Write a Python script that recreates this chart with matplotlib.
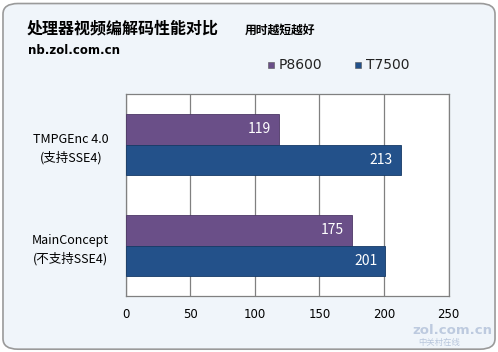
import matplotlib.pyplot as plt
from matplotlib.patches import FancyBboxPatch
import numpy as np

plt.rcParams['font.family'] = ['Noto Sans CJK SC', 'DejaVu Sans']

categories = ['TMPGEnc 4.0\n(支持SSE4)', 'MainConcept\n(不支持SSE4)']
p8600 = [119, 175]
t7500 = [213, 201]
series_names = ['P8600', 'T7500']
xticks = [0, 50, 100, 150, 200, 250]

c_p = '#6a4f88'
c_t = '#23518a'

fig = plt.figure(figsize=(4.98, 3.52), dpi=100)
fig.patch.set_facecolor('white')
bg = FancyBboxPatch((0.006, 0.008), 0.988, 0.982, boxstyle='round,pad=0,rounding_size=0.03',
                    transform=fig.transFigure, facecolor='#f0f5fa', edgecolor='#9a9a9a', lw=1.2,
                    zorder=-10)
fig.patches.append(bg)

W, H = 498, 352
ax = fig.add_axes([125.5 / W, 1 - 296 / H, (448.5 - 125.5) / W, (296 - 94) / H])
ax.set_facecolor('white')

y = np.arange(len(categories))
h = 0.3
ax.barh(y - h / 2, p8600, height=h, color=c_p, edgecolor='#4d3866', lw=0.6, zorder=3)
ax.barh(y + h / 2, t7500, height=h, color=c_t, edgecolor='#163a66', lw=0.6, zorder=3)
for i in range(len(categories)):
    ax.text(p8600[i] - 6, y[i] - h / 2, str(p8600[i]), color='white', fontsize=10,
            ha='right', va='center', zorder=4)
    ax.text(t7500[i] - 6, y[i] + h / 2, str(t7500[i]), color='white', fontsize=10,
            ha='right', va='center', zorder=4)

ax.set_ylim(1.5, -0.5)
ax.set_xlim(0, 250)
ax.set_xticks(xticks)
ax.set_xticklabels([str(v) for v in xticks], fontsize=8.5, family=['DejaVu Sans'])
ax.set_yticks(y)
ax.set_yticklabels(categories, fontsize=9, linespacing=1.5, multialignment='center')
ax.tick_params(length=0, pad=12)
ax.tick_params(axis='x', pad=9)
ax.grid(axis='x', color='#808080', lw=0.9, zorder=1)
for s in ax.spines.values():
    s.set_color('#808080')
    s.set_linewidth(0.9)

fig.text(27 / W, 1 - 28 / H, '处理器视频编解码性能对比', fontsize=11.5, fontweight='bold',
         va='center', ha='left')
fig.text(245 / W, 1 - 30 / H, '用时越短越好', fontsize=8.5, fontweight='bold', va='center')
fig.text(28 / W, 1 - 50 / H, 'nb.zol.com.cn', fontsize=8.5, fontweight='bold', va='center',
         family=['DejaVu Sans'])

# legend
for xm, col, name in [(268, c_p, series_names[0]), (355, c_t, series_names[1])]:
    fig.patches.append(plt.Rectangle((xm / W, 1 - 68 / H), 6 / W, 6 / H, transform=fig.transFigure,
                                     facecolor=col, edgecolor='#555555', lw=0.4))
    fig.text((xm + 11) / W, 1 - 65 / H, name, fontsize=10, va='center', color='#222222',
             family=['DejaVu Sans'])

# watermark
fig.text(492 / W, 1 - 331 / H, 'zol.com.cn', fontsize=9.5, fontweight='bold', color='#b8c6dc',
         va='center', ha='right', alpha=0.9, family=['DejaVu Sans'])
fig.text(418 / W, 1 - 342 / H, '中关村在线', fontsize=6, color='#b8c6dc', va='center')

fig.savefig('out.png', dpi=100)
